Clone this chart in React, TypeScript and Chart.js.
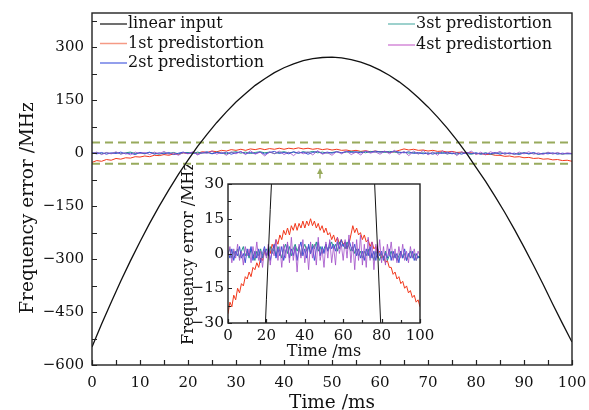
import React, { useEffect, useRef } from 'react';
import { Chart, registerables } from 'chart.js';
Chart.register(...registerables);

// ---------- data ----------
const timeMs = [
  0, 1, 2, 3, 4, 5, 6, 7, 8, 9, 10, 11, 12, 13, 14, 15, 16, 17, 18, 19,
  20, 21, 22, 23, 24, 25, 26, 27, 28, 29, 30, 31, 32, 33, 34, 35, 36, 37, 38, 39,
  40, 41, 42, 43, 44, 45, 46, 47, 48, 49, 50, 51, 52, 53, 54, 55, 56, 57, 58, 59,
  60, 61, 62, 63, 64, 65, 66, 67, 68, 69, 70, 71, 72, 73, 74, 75, 76, 77, 78, 79,
  80, 81, 82, 83, 84, 85, 86, 87, 88, 89, 90, 91, 92, 93, 94, 95, 96, 97, 98, 99, 100,
];
const linearTime = [
  0, 2, 4, 6, 8, 10, 12, 14, 16, 18, 20, 22, 24, 26, 28, 30, 32, 34, 36, 38, 40, 42, 44, 46, 48,
  50, 52, 54, 56, 58, 60, 62, 64, 66, 68, 70, 72, 74, 76, 78, 80, 82, 84, 86, 88, 90, 92, 94, 96, 98, 100,
];
const linearInput = [
  -549, -484, -422, -362, -305, -251, -199, -150, -104, -60,
  -20, 19, 54, 87, 117, 145, 169, 192, 211, 228,
  242, 253, 262, 268, 271, 272, 270, 265, 258, 248, 235,
  220, 202, 181, 157, 131, 102, 71, 37, 0, -40,
  -80, -123, -168, -216, -266, -318, -372, -428, -482, -535,
];
const pre1 = [
  -26, -21, -23, -18, -20, -15, -17, -13, -14, -10,
  -11, -8, -10, -6, -7, -4, -6, -2, -3, 1,
  -1, 2, 0, 4, 2, 6, 4, 8, 6, 10,
  8, 11, 8, 12, 10, 13, 10, 13, 11, 14,
  11, 14, 12, 15, 12, 14, 11, 13, 10, 12,
  9, 11, 8, 9, 6, 8, 5, 7, 4, 6,
  4, 5, 2, 4, 8, 12, 9, 11, 8, 9,
  6, 8, 5, 6, 3, 5, 2, 3, 0, 1,
  -2, -1, -4, -3, -6, -6, -9, -8, -11, -10,
  -13, -12, -15, -14, -17, -16, -19, -18, -21, -20,
  -23,
];
const pre2 = [
  1, -2, 2, -3, 1, -1, 3, -2, 0, -4,
  2, -1, 3, -3, 1, -2, 2, -4, 0, 3,
  -1, 2, -3, 1, 4, -2, 2, -1, 3, -3,
  1, 4, -2, 2, -1, 3, -3, 2, 5, -1,
  2, -2, 4, 0, 3, -3, 2, 5, -1, 3,
  0, 4, 1, 5, 2, 4, 1, 5, 2, 6,
  3, 5, 2, 6, 3, 1, 4, -1, 2, -2,
  1, -3, 2, -1, 3, -2, 1, -3, 2, -1,
  1, -3, 0, -2, 2, -3, 1, -2, 0, -4,
  1, -2, 2, -3, 0, -2, 1, -3, 0, -2,
  -1,
];
const pre3 = [
  0, 2, -2, 1, -1, 2, -2, 1, 3, -1,
  1, -2, 2, 0, -3, 1, -1, 2, -2, 1,
  2, -1, 3, 0, 2, -1, 3, 1, -2, 2,
  4, 0, 3, -1, 2, 4, 1, 3, -1, 2,
  4, 1, 3, 0, 4, 2, 5, 1, 3, 0,
  2, 4, 1, 3, 5, 2, 4, 1, 5, 3,
  4, 2, 5, 3, 1, 3, 0, 2, -1, 1,
  -2, 1, -1, 2, -2, 0, -3, 1, -1, -3,
  0, -2, 1, -3, -1, 1, -2, 0, -3, -1,
  1, -2, 0, -3, -1, 1, -2, 0, -3, -1,
  -2,
];
const pre4 = [
  -1, 3, -4, 2, -2, 4, -3, 1, -5, 3,
  -1, 2, -4, 3, -2, 5, -3, 1, -6, 2,
  -2, 4, -5, 2, -1, 6, -3, 3, -6, 4,
  -2, 5, -4, 7, -3, 3, -8, 4, -2, 6,
  -4, 3, -7, 5, -2, 4, -5, 7, -3, 2,
  -6, 5, -2, 6, -4, 3, -5, 7, 0, 4,
  -3, 6, -2, 8, -4, 5, -7, 6, -3, 8,
  -5, 4, -6, 7, -3, 5, -7, 4, -2, 6,
  -4, 3, -5, 4, -1, 5, -3, 2, -4, 3,
  -2, 4, -3, 1, -4, 3, -2, 2, -3, 1,
  -1,
];
const boundTime = [0, 100];
const boundUpper = [30, 30];
const boundLower = [-30, -30];
const arrowTime = 47.5;
const arrowFrom = -72;
const arrowTo = -42;

const legendLeft = ['linear input', '1st predistortion', '2st predistortion'];
const legendRight = ['3st predistortion', '4st predistortion'];
const mainYTitle = 'Frequency error /MHz';

const mainXTicks = [0, 10, 20, 30, 40, 50, 60, 70, 80, 90, 100];
const mainXMinor = [5, 15, 25, 35, 45, 55, 65, 75, 85, 95];
const mainYTicks = [-600, -450, -300, -150, 0, 150, 300];
const mainYMinor = [-525, -375, -225, -75, 75, 225, 375];
const insetXTicks = [0, 20, 40, 60, 80, 100];
const insetXMinor = [10, 30, 50, 70, 90];
const insetYTicks = [-30, -15, 0, 15, 30];
const insetYMinor = [-22.5, -7.5, 7.5, 22.5];

// ---------- styles ----------
const FONT = "'DejaVu Serif', 'Liberation Serif', serif";
const C_LINEAR = '#111111';
const C_P1 = '#f2381c';
const C_P2 = '#3d4fd6';
const C_P3 = '#23938a';
const C_P4 = 'rgba(160,78,200,0.8)';
const C_BOUND = '#98aa5c';
const LEG_P1 = '#f59a85';
const LEG_P2 = '#6f7fe6';
const LEG_P3 = '#7cc2bd';
const LEG_P4 = '#d58ad8';

const pts = (xs: number[], ys: number[]) => xs.map((x, i) => ({ x, y: ys[i] }));

function makeDatasets(linWidth: number, noiseWidth: number) {
  return [
    { label: 'linear input', data: pts(linearTime, linearInput), borderColor: C_LINEAR, borderWidth: linWidth },
    { label: '4st predistortion', data: pts(timeMs, pre4), borderColor: C_P4, borderWidth: noiseWidth },
    { label: '2st predistortion', data: pts(timeMs, pre2), borderColor: C_P2, borderWidth: noiseWidth },
    { label: '3st predistortion', data: pts(timeMs, pre3), borderColor: C_P3, borderWidth: noiseWidth },
    { label: '1st predistortion', data: pts(timeMs, pre1), borderColor: C_P1, borderWidth: noiseWidth },
  ].map((d) => ({ ...d, pointRadius: 0, tension: 0, fill: false }));
}

function drawInwardTicks(chart: any, xs: number[], xm: number[], ys: number[], ym: number[], major: number, minor: number) {
  const { ctx, chartArea: a, scales } = chart;
  ctx.save();
  ctx.strokeStyle = '#222';
  ctx.lineWidth = 1.2;
  ctx.beginPath();
  const xt = (v: number, len: number) => {
    const p = Math.round(scales.x.getPixelForValue(v)) + 0.5;
    ctx.moveTo(p, a.bottom);
    ctx.lineTo(p, a.bottom - len);
  };
  const yt = (v: number, len: number) => {
    const p = Math.round(scales.y.getPixelForValue(v)) + 0.5;
    ctx.moveTo(a.left, p);
    ctx.lineTo(a.left + len, p);
  };
  xs.forEach((v) => xt(v, major));
  xm.forEach((v) => xt(v, minor));
  ys.forEach((v) => yt(v, major));
  ym.forEach((v) => yt(v, minor));
  ctx.stroke();
  ctx.lineWidth = 1.4;
  ctx.strokeRect(a.left, a.top, a.right - a.left, a.bottom - a.top);
  ctx.restore();
}

const mainPlugin = {
  id: 'mainDecor',
  afterDatasetsDraw(chart: any) {
    const { ctx, scales, chartArea: a } = chart;
    drawInwardTicks(chart, mainXTicks, mainXMinor, mainYTicks, mainYMinor, 5, 5);
    // arrow
    const ax = scales.x.getPixelForValue(arrowTime);
    const y1 = scales.y.getPixelForValue(arrowFrom);
    const y2 = scales.y.getPixelForValue(arrowTo);
    ctx.save();
    ctx.strokeStyle = C_BOUND;
    ctx.fillStyle = C_BOUND;
    ctx.lineWidth = 1.5;
    ctx.beginPath();
    ctx.moveTo(ax, y1);
    ctx.lineTo(ax, y2 + 3);
    ctx.stroke();
    ctx.beginPath();
    ctx.moveTo(ax, y2);
    ctx.lineTo(ax - 3, y2 + 6);
    ctx.lineTo(ax + 3, y2 + 6);
    ctx.closePath();
    ctx.fill();
    ctx.restore();
    // y title
    ctx.save();
    ctx.font = `18.5px ${FONT}`;
    ctx.fillStyle = '#111';
    ctx.textAlign = 'center';
    ctx.textBaseline = 'middle';
    ctx.translate(a.left - 64, (a.top + a.bottom) / 2 + 19);
    ctx.rotate(-Math.PI / 2);
    ctx.fillText(mainYTitle, 0, 0);
    ctx.restore();
    // legend
    ctx.save();
    ctx.font = `16px ${FONT}`;
    ctx.textBaseline = 'middle';
    ctx.fillStyle = '#111';
    const leftCols = [C_LINEAR, LEG_P1, LEG_P2];
    const rightCols = [LEG_P3, LEG_P4];
    const row = (x: number, y: number, col: string, text: string) => {
      ctx.strokeStyle = col;
      ctx.lineWidth = col === C_LINEAR ? 1.2 : 1.5;
      ctx.beginPath();
      ctx.moveTo(x, y);
      ctx.lineTo(x + 27, y);
      ctx.stroke();
      ctx.fillText(text, x + 28, y);
    };
    legendLeft.forEach((t, i) => row(a.left + 8, a.top + 11 + i * 19.5, leftCols[i], t));
    legendRight.forEach((t, i) => row(a.left + 296, a.top + 11 + i * 21, rightCols[i], t));
    ctx.restore();
  },
};

const insetPlugin = {
  id: 'insetDecor',
  beforeDraw(chart: any) {
    const { ctx, chartArea: a, width, height } = chart;
    ctx.save();
    ctx.fillStyle = '#ffffff';
    ctx.fillRect(4, a.top - 4, a.right + 5 - 4, height - 5 - (a.top - 4));
    ctx.restore();
  },
  afterDatasetsDraw(chart: any) {
    drawInwardTicks(chart, insetXTicks, insetXMinor, insetYTicks, insetYMinor, 4, 3);
  },
};

function scaleOpts(min: number, max: number, ticks: number[], title: string, tickSize: number, titleSize: number,
  pad: number, titlePad: any, fitSize: number, horizontal: boolean) {
  return {
    type: 'linear',
    min,
    max,
    afterBuildTicks: (s: any) => { s.ticks = ticks.map((v) => ({ value: v })); },
    afterFit: (s: any) => {
      if (horizontal) s.height = fitSize; else s.width = fitSize;
      s.paddingLeft = 0; s.paddingRight = 0; s.paddingTop = 0; s.paddingBottom = 0;
    },
    grid: { display: false, drawTicks: false },
    border: { display: false },
    ticks: {
      font: { family: FONT, size: tickSize },
      color: '#111',
      padding: pad,
      maxRotation: 0,
      autoSkip: false,
      callback: (v: any) => (v < 0 ? '\u2212' + Math.abs(v) : String(v)),
    },
    title: {
      display: title !== '',
      text: title,
      color: '#111',
      font: { family: FONT, size: titleSize, lineHeight: 1 },
      padding: titlePad,
    },
  };
}

export default function App() {
  const mainRef = useRef<HTMLCanvasElement>(null);
  const insetRef = useRef<HTMLCanvasElement>(null);
  useEffect(() => {
    const main = new Chart(mainRef.current as HTMLCanvasElement, {
      type: 'line',
      data: {
        datasets: [
          ...makeDatasets(1.3, 1),
          { label: 'upper', data: pts(boundTime, boundUpper), borderColor: C_BOUND, borderWidth: 2, borderDash: [8, 5], pointRadius: 0 },
          { label: 'lower', data: pts(boundTime, boundLower), borderColor: C_BOUND, borderWidth: 2, borderDash: [8, 5], pointRadius: 0 },
        ],
      } as any,
      options: {
        responsive: false,
        animation: false,
        layout: { padding: { left: 0, top: 13, right: 17, bottom: 0 } },
        plugins: { legend: { display: false }, tooltip: { enabled: false } },
        scales: {
          x: scaleOpts(0, 100, mainXTicks, 'Time /ms', 15, 18.5, 9, { top: 0, bottom: -2 }, 45, true),
          y: scaleOpts(-600, 397, mainYTicks, '', 15, 18.5, 8, { top: 0, bottom: 0 }, 92, false),
        },
      } as any,
      plugins: [mainPlugin],
    });
    const inset = new Chart(insetRef.current as HTMLCanvasElement, {
      type: 'line',
      data: { datasets: makeDatasets(1, 1) } as any,
      options: {
        responsive: false,
        animation: false,
        layout: { padding: { left: 0, top: 19, right: 14, bottom: 0 } },
        plugins: { legend: { display: false }, tooltip: { enabled: false } },
        scales: {
          x: scaleOpts(0, 100, insetXTicks, 'Time /ms', 15, 16, 4, { top: 0, bottom: 2 }, 39, true),
          y: scaleOpts(-30, 30, insetYTicks, 'Frequency error /MHz', 15.5, 16, 4, { top: 9, bottom: 0 }, 56, false),
        },
      } as any,
      plugins: [insetPlugin],
    });
    return () => {
      main.destroy();
      inset.destroy();
    };
  }, []);
  return (
    <div style={{ position: 'fixed', left: 0, top: 0, width: 589, height: 410, background: '#fff' }}>
      <canvas ref={mainRef} width={589} height={410} style={{ position: 'absolute', left: 0, top: 0 }} />
      <canvas ref={insetRef} width={262} height={197} style={{ position: 'absolute', left: 172, top: 165 }} />
    </div>
  );
}
